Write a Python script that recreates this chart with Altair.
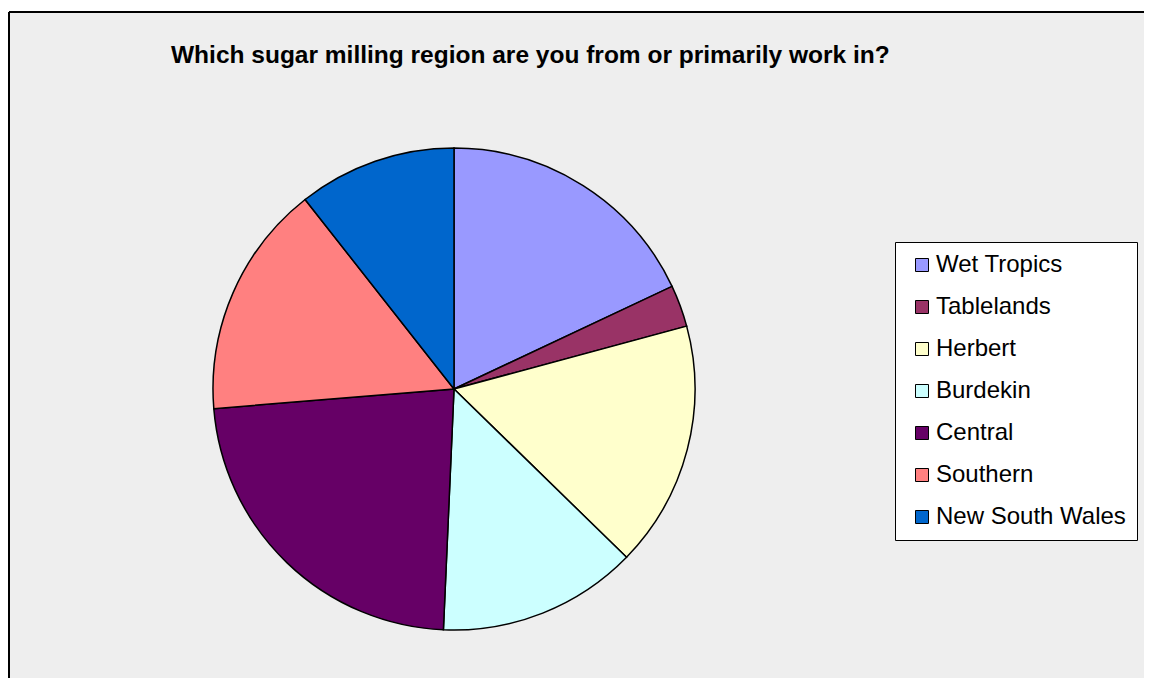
import altair as alt
import pandas as pd

regions = ["Wet Tropics", "Tablelands", "Herbert", "Burdekin", "Central", "Southern", "New South Wales"]
shares = [18.0, 2.8, 16.5, 13.4, 23.0, 15.7, 10.6]
colors = ["#9999FF", "#993366", "#FFFFCC", "#CCFFFF", "#660066", "#FF8080", "#0066CC"]

df = pd.DataFrame({"region": regions, "share": shares, "order": list(range(len(regions)))})

W, H = 1135, 666

pie = alt.Chart(df).mark_arc(
    radius=241, x=445, y=377, stroke="black", strokeWidth=1.5
).encode(
    theta=alt.Theta("share:Q", stack=True),
    color=alt.Color(
        "region:N",
        sort=regions,
        scale=alt.Scale(domain=regions, range=colors),
        legend=alt.Legend(
            title=None,
            orient="none",
            legendX=886,
            legendY=230,
            padding=11,
            symbolType="square",
            symbolSize=169,
            symbolStrokeColor="black",
            symbolStrokeWidth=1,
            symbolOffset=4,
            labelFont="Liberation Sans",
            labelFontSize=24,
            labelColor="black",
            labelOffset=2,
            labelLimit=400,
            rowPadding=18,
            fillColor="white",
            strokeColor="black",
        ),
    ),
    order=alt.Order("order:Q"),
)

frame_src = pd.DataFrame({"edge": ["left"]})
left_edge = alt.Chart(frame_src).mark_rule(color="black", strokeWidth=2).encode(
    x=alt.value(0), y=alt.value(0), y2=alt.value(H)
)
top_edge = alt.Chart(frame_src).mark_rule(color="black", strokeWidth=2).encode(
    x=alt.value(0), x2=alt.value(W), y=alt.value(0)
)

chart = alt.layer(pie, left_edge, top_edge).properties(
    width=W,
    height=H,
    padding={"left": 1, "top": 4, "right": 0, "bottom": 0},
    autosize=alt.AutoSizeParams(type="none"),
    background="white",
    title=alt.Title(
        "Which sugar milling region are you from or primarily work in?",
        anchor="start",
        font="Liberation Sans",
        fontSize=24.5,
        fontWeight="bold",
        color="black",
        baseline="alphabetic",
        offset=0,
        dx=163,
        dy=76,
    ),
).configure_view(fill="#EEEEEE", stroke=None)

chart.save("out.html", embed_options={"renderer": "svg", "actions": False})
